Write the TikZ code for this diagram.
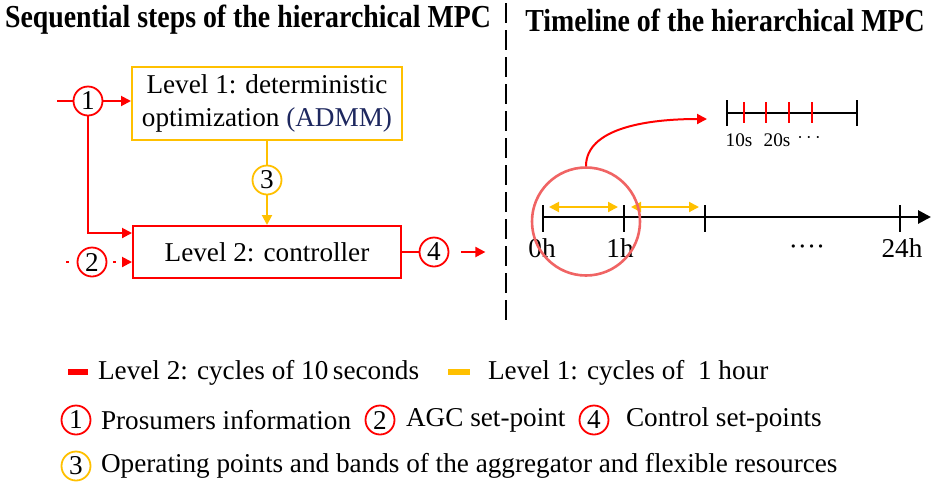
\documentclass[tikz,border=0pt]{standalone}
\usepackage{fontspec}
\setmainfont{Liberation Serif}
\usetikzlibrary{arrows.meta,positioning}

\definecolor{lvtwo}{RGB}{255,0,0}
\definecolor{lvone}{RGB}{255,192,0}
\definecolor{zoomc}{RGB}{240,100,100}
\definecolor{admm}{RGB}{30,40,95}

\tikzset{
  box/.style={draw,line width=1pt,align=center,inner sep=2pt},
  num/.style={circle,draw,line width=0.9pt,inner sep=0pt,minimum size=14.5pt},
  link/.style={line width=1pt},
  tick/.style={line width=1.2pt}
}

\begin{document}
\begin{tikzpicture}[x=0.5pt,y=-0.5pt,
    every node/.style={font=\fontsize{13.6}{16.5}\selectfont},
    >={Triangle[length=5pt,width=5pt]}]
  \useasboundingbox (0,0) rectangle (933,484);

  % titles
  \node[font=\bfseries\fontsize{16}{18}\selectfont] (ttl) at (248,20) {\scalebox{0.87}[1]{Sequential steps of the hierarchical MPC}};
  \node[font=\bfseries\fontsize{16}{18}\selectfont] (ttr) at (725,20) {\scalebox{0.87}[1]{Timeline of the hierarchical MPC}};
  \draw[line width=1.2pt,dash pattern=on 10pt off 3.5pt] (506,3) -- (506,326);

  % left: the two levels
  \node[box,draw=lvone,minimum width=135pt,minimum height=36.5pt] (lvl1) at (267,103.5)
    {Level 1: deterministic\\optimization {\color{admm}(ADMM)}};
  \node[box,draw=lvtwo,minimum width=134pt,minimum height=26pt] (lvl2) at (267,252) {Level 2: controller};

  \node[num,draw=lvtwo] (c1) at (88,101) {1};
  \node[num,draw=lvtwo] (c2) at (92,262) {2};
  \node[num,draw=lvone] (c3) at (267,180) {3};
  \node[num,draw=lvtwo] (c4) at (434,252) {4};
  \coordinate (in1) at (57,101);
  \coordinate (in2) at (66,262);

  \draw[link,lvtwo] (in1) -- (c1);
  \draw[link,lvtwo,->] (c1) -- (c1 -| lvl1.west);
  \draw[link,lvtwo,->] (c1) |- ([yshift=-4pt]lvl2.north west);
  \draw[link,lvtwo,dash pattern=on 1.5pt off 20pt] (in2) -- (c2);
  \draw[link,lvtwo,dash pattern=on 0pt off 3pt on 1.5pt off 20pt,->] (c2) -- (c2 -| lvl2.west);
  \draw[link,lvone] (lvl1) -- (c3);
  \draw[link,lvone,->] (c3) -- (lvl2);
  \draw[link,lvtwo] (lvl2) -- (c4);
  \draw[link,lvtwo,->] ([xshift=6pt]c4.east) -- ++(12pt,0);

  % right: timeline
  \draw[line width=1.4pt,-{Triangle[length=6.5pt,width=6.5pt]}] (543,217) -- (931,217);
  \foreach \x in {543,624,705,900} {
    \draw[tick] (\x,205) -- (\x,232);
  }
  \node (h0) at (542,248) {0h};
  \node (h1) at (620,248) {1h};
  \node (hd) at (807,250) {\textperiodcentered\textperiodcentered\textperiodcentered\textperiodcentered};
  \node (h24) at (902,248) {24h};
  \draw[link,lvone,<->] (549,207) -- (618,207);
  \draw[link,lvone,<->] (631,207) -- (699,207);

  \node[circle,draw=zoomc,line width=1.3pt,minimum size=54pt] (zc) at (586,221.5) {};
  \coordinate (zt) at (707,119);
  \draw[link,lvtwo,->] (zc.north) .. controls +(0,-38) and +(-60,0) .. (zt);

  \draw[line width=1.4pt] (727,113) -- (857,113);
  \foreach \x in {727,857} {
    \draw[tick] (\x,100) -- (\x,126);
  }
  \foreach \x in {744,766,789,812} {
    \draw[lvtwo,line width=0.9pt] (\x,102) -- (\x,123);
  }
  \node[font=\fontsize{9.6}{11}\selectfont] (s10) at (739,140) {10s};
  \node[font=\fontsize{9.6}{11}\selectfont] (s20) at (777,140) {20s};
  \node[font=\fontsize{9.6}{11}\selectfont] (sd) at (809,138) {$\cdots$};

  % legend
  \draw[lvtwo,line width=3pt] (68,372) -- (88,372);
  \node[anchor=west] (lg2) at (91,373) {Level 2: cycles of 10\,seconds};
  \draw[lvone,line width=3pt] (448,372) -- (470,372);
  \node[anchor=west] (lg1) at (481,373) {Level 1: cycles of \ 1 hour};

  \node[num,draw=lvtwo] (k1) at (76,420) {1};
  \node[anchor=west] (t1) at (94,420) {Prosumers information};
  \node[num,draw=lvtwo] (k2) at (380,420) {2};
  \node[anchor=west] (t2) at (399,420) {AGC set-point};
  \node[num,draw=lvtwo] (k4) at (594,420) {4};
  \node[anchor=west] (t4) at (619,420) {Control set-points};
  \node[num,draw=lvone] (k3) at (76,466) {3};
  \node[anchor=west] (t3) at (94,466) {Operating points and bands of the aggregator and flexible resources};
\end{tikzpicture}
\end{document}
